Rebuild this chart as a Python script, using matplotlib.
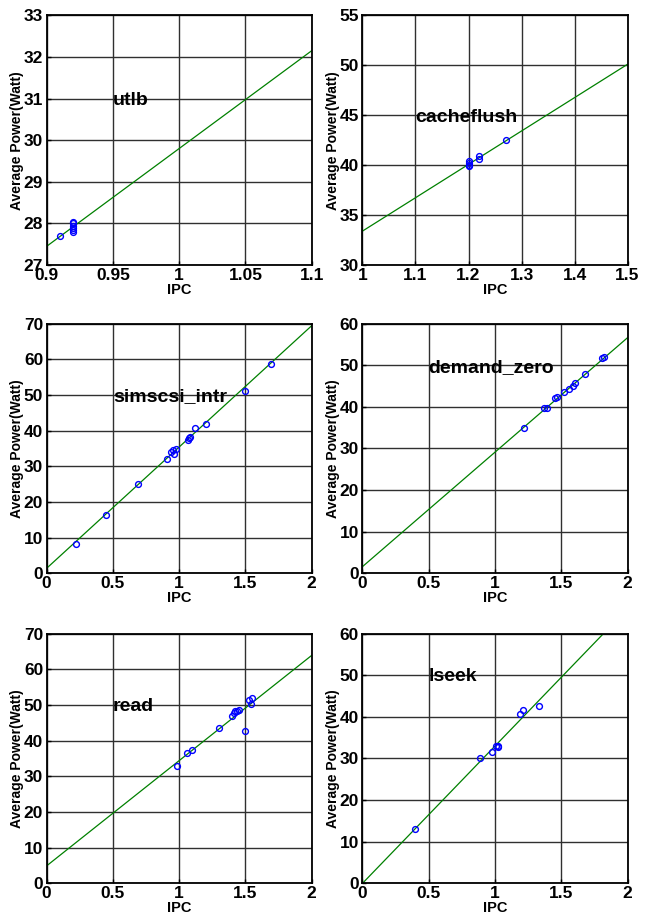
import matplotlib
matplotlib.use("Agg")
import matplotlib.pyplot as plt
import numpy as np

plt.rcParams['font.family'] = ['Liberation Sans', 'DejaVu Sans']

names = ["utlb", "cacheflush", "simscsi_intr", "demand_zero", "read", "lseek"]

ipc = [
    [0.91, 0.92, 0.92, 0.92, 0.92, 0.92, 0.92],
    [1.20, 1.20, 1.20, 1.20, 1.22, 1.22, 1.27],
    [0.22, 0.45, 0.69, 0.91, 0.94, 0.955, 0.96, 0.975, 1.065, 1.075, 1.085,
     1.12, 1.20, 1.50, 1.69],
    [1.22, 1.37, 1.39, 1.455, 1.47, 1.52, 1.56, 1.585, 1.605, 1.68, 1.805, 1.82],
    [0.98, 1.06, 1.10, 1.30, 1.40, 1.41, 1.425, 1.44, 1.45, 1.50, 1.53, 1.545, 1.55],
    [0.40, 0.885, 0.975, 1.01, 1.02, 1.02, 1.185, 1.215, 1.335],
]
power = [
    [27.7, 27.85, 27.9, 27.95, 28.0, 28.03, 27.8],
    [39.9, 40.0, 40.2, 40.4, 40.6, 40.9, 42.5],
    [8.3, 16.2, 25.0, 31.9, 34.0, 34.5, 33.3, 34.9, 37.5, 38.0, 38.3,
     40.6, 41.9, 51.2, 58.7],
    [35.0, 39.7, 39.7, 42.1, 42.3, 43.5, 44.3, 45.1, 45.7, 48.0, 51.7, 51.9],
    [33.0, 36.4, 37.5, 43.6, 47.0, 47.7, 48.2, 48.4, 48.6, 42.7, 51.3, 50.4, 52.0],
    [13.0, 30.2, 31.5, 33.0, 32.8, 33.0, 40.8, 41.6, 42.5],
]

# fitted line: power = slope * ipc + intercept
fit_slope = [23.5, 33.4, 34.0, 27.5, 29.5, 33.0]
fit_intercept = [6.3, 0.0, 1.4, 1.6, 4.9, 0.0]

xlims = [(0.9, 1.1), (1.0, 1.5), (0, 2), (0, 2), (0, 2), (0, 2)]
ylims = [(27, 33), (30, 55), (0, 70), (0, 60), (0, 70), (0, 60)]
xticks = [[0.9, 0.95, 1, 1.05, 1.1], [1, 1.1, 1.2, 1.3, 1.4, 1.5],
          [0, 0.5, 1, 1.5, 2], [0, 0.5, 1, 1.5, 2], [0, 0.5, 1, 1.5, 2], [0, 0.5, 1, 1.5, 2]]
xticklabels = [["0.9", "0.95", "1", "1.05", "1.1"], ["1", "1.1", "1.2", "1.3", "1.4", "1.5"],
               ["0", "0.5", "1", "1.5", "2"], ["0", "0.5", "1", "1.5", "2"],
               ["0", "0.5", "1", "1.5", "2"], ["0", "0.5", "1", "1.5", "2"]]
yticks = [np.arange(27, 34, 1), np.arange(30, 56, 5), np.arange(0, 71, 10),
          np.arange(0, 61, 10), np.arange(0, 71, 10), np.arange(0, 61, 10)]
label_pos = [(0.95, 30.95), (1.1, 44.8), (0.5, 49.6), (0.5, 49.4), (0.5, 49.7), (0.5, 49.8)]

fig = plt.figure(figsize=(6.48, 9.13), dpi=100)
lefts = [0.072, 0.5594]
bottoms = [0.7097, 0.3721, 0.0325]
w, h = 0.409, 0.2735

for i in range(6):
    ax = fig.add_axes([lefts[i % 2], bottoms[i // 2], w, h])
    x0, x1 = xlims[i]
    xs = np.array([x0, x1])
    ax.plot(xs, fit_slope[i] * xs + fit_intercept[i], color='#008000', lw=0.9)
    ax.plot(ipc[i], power[i], 'o', mfc='none', mec='#0000ff', ms=4.2, mew=1.0)
    ax.set_xlim(xlims[i])
    ax.set_ylim(ylims[i])
    ax.set_xticks(xticks[i])
    ax.set_xticklabels(xticklabels[i])
    ax.set_yticks(yticks[i])
    ax.grid(True, color='#303030', linestyle='-', lw=1.0)
    ax.tick_params(direction='in', length=3, width=1, labelsize=12.5)
    ax.tick_params(axis='x', pad=2)
    ax.tick_params(axis='y', pad=2.5)
    for lab in ax.get_xticklabels() + ax.get_yticklabels():
        lab.set_fontweight('bold')
    for sp in ax.spines.values():
        sp.set_linewidth(1.3)
    ax.set_xlabel('IPC', fontsize=10.5, fontweight='bold', labelpad=0)
    ax.set_ylabel('Average Power(Watt)', fontsize=10, fontweight='bold', labelpad=0)
    ax.text(label_pos[i][0], label_pos[i][1], names[i], fontsize=14,
            fontweight='bold', ha='left', va='center')

fig.savefig('out.png', dpi=100)
